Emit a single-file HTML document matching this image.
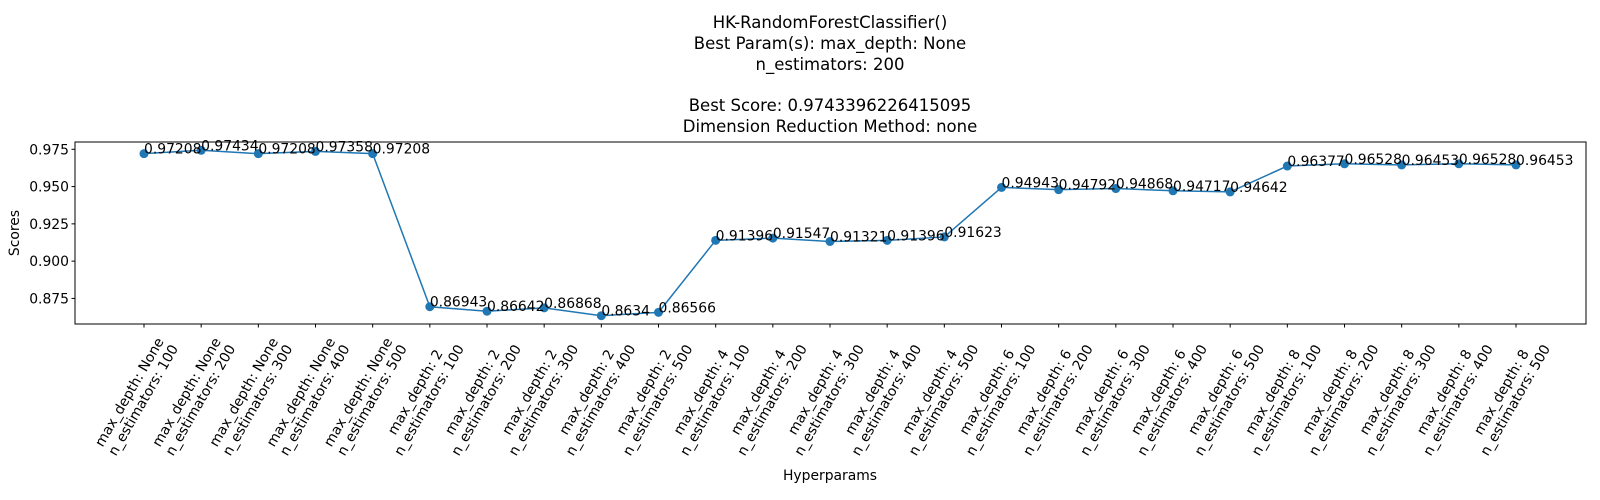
<!DOCTYPE html>
<html><head><meta charset="utf-8"><style>
html,body{margin:0;padding:0;background:#fff;}
svg{display:block;font-family:"DejaVu Sans","Liberation Sans",sans-serif;}
</style></head><body>
<svg id="chart" width="1600" height="500" viewBox="0 0 1600 500">
<g font-size="16.5" text-anchor="middle" fill="#000">
<text x="830" y="28">HK-RandomForestClassifier()</text>
<text x="830" y="49">Best Param(s): max_depth: None</text>
<text x="830" y="70">n_estimators: 200</text>
<text x="830" y="111">Best Score: 0.9743396226415095</text>
<text x="830" y="132">Dimension Reduction Method: none</text>
</g>
<g id="plot"></g>
<text x="19" y="233" font-size="13.9" text-anchor="middle" transform="rotate(-90 19 233)">Scores</text>
<text x="830" y="480" font-size="13.9" text-anchor="middle">Hyperparams</text>
</svg>
<script>
const depths = ["None","None","None","None","None","2","2","2","2","2","4","4","4","4","4","6","6","6","6","6","8","8","8","8","8"];
const estimators = ["100","200","300","400","500","100","200","300","400","500","100","200","300","400","500","100","200","300","400","500","100","200","300","400","500"];
const scores = [0.97208,0.97434,0.97208,0.97358,0.97208,0.86943,0.86642,0.86868,0.8634,0.86566,0.91396,0.91547,0.91321,0.91396,0.91623,0.94943,0.94792,0.94868,0.94717,0.94642,0.96377,0.96528,0.96453,0.96528,0.96453];
const yTicks = [0.875,0.900,0.925,0.950,0.975];
const yTickLabels = ["0.875","0.900","0.925","0.950","0.975"];

const NS="http://www.w3.org/2000/svg";
const L=75,R=1586,T=142,B=324;
const n=scores.length;
const x0=144,x1=1516;
const xs=i=>x0+(x1-x0)*i/(n-1);
const mn=Math.min(...scores),mx=Math.max(...scores),pad=(mx-mn)*0.05;
const ylo=mn-pad,yhi=mx+pad;
const ys=v=>B-(v-ylo)/(yhi-ylo)*(B-T);
const g=document.getElementById('plot');
function mk(t,a,p){const e=document.createElementNS(NS,t);for(const k in a)e.setAttribute(k,a[k]);(p||g).appendChild(e);return e;}

const frame=mk('rect',{x:L,y:T,width:R-L,height:B-T,fill:'none',stroke:'#000','stroke-width':1});



yTicks.forEach((v,i)=>{
  const y=ys(v);
  const tk=mk('line',{x1:L-3.5,x2:L,y1:y,y2:y,stroke:'#000'});
  
  
  const t=mk('text',{x:L-6,y:y+5,'font-size':13.9,'text-anchor':'end'});
  t.textContent=yTickLabels[i];
  
  
});

scores.forEach((v,i)=>{
  const x=xs(i);
  const tk=mk('line',{x1:x,x2:x,y1:B,y2:B+3.5,stroke:'#000'});
  
  
  const lg=mk('g',{transform:`translate(${x-8},${B+72}) rotate(-60)`,'font-size':13.9,'text-anchor':'middle'});
  
  
  const t1=mk('text',{x:0,y:-3},lg);t1.textContent='max_depth: '+depths[i];
  const t2=mk('text',{x:0,y:13},lg);t2.textContent='n_estimators: '+estimators[i];
});

const line=mk('polyline',{points:scores.map((v,i)=>xs(i)+','+ys(v)).join(' '),fill:'none',stroke:'#1f77b4','stroke-width':1.5});



scores.forEach((v,i)=>{
  const c=mk('circle',{cx:xs(i),cy:ys(v),r:4.5,fill:'#1f77b4'});
  
  
});
scores.forEach((v,i)=>{
  const t=mk('text',{x:xs(i),y:ys(v),'font-size':13.9});
  t.textContent=String(v);
  
  
});
</script>
</body></html>
